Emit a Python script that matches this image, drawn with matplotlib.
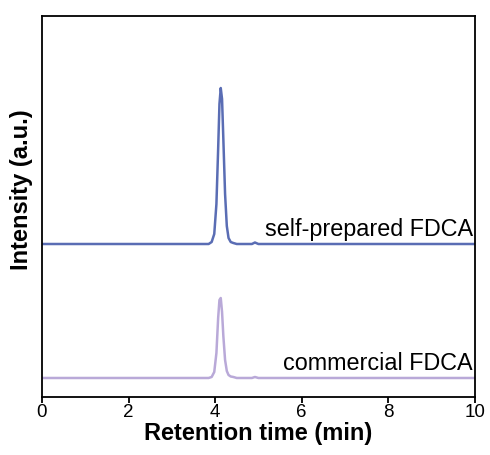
import numpy as np
import matplotlib.pyplot as plt

plt.rcParams['font.family'] = ['Liberation Sans', 'DejaVu Sans']

# retention times (min) and detector signal
t = [0.0, 3.85, 3.92, 3.98, 4.03, 4.07, 4.10, 4.13, 4.16, 4.19, 4.23,
     4.27, 4.31, 4.36, 4.42, 4.5, 4.85, 4.92, 5.0, 10.0]
self_prepared = [0, 0, 2, 10, 40, 95, 140, 156, 145, 105, 50,
                 18, 6, 2, 1, 0, 0, 1.5, 0, 0]
commercial = [0, 0, 1, 6, 25, 60, 78, 80, 66, 42, 18,
              7, 3, 1.5, 1, 0, 0, 1, 0, 0]

offset_self = 153
offset_comm = 19

fig = plt.figure(figsize=(4.9, 4.55), dpi=100)
ax = fig.add_axes([0.0857, 0.1275, 0.8833, 0.8373])

ax.plot(t, np.array(self_prepared) + offset_self, color='#5a6db4', linewidth=1.8)
ax.plot(t, np.array(commercial) + offset_comm, color='#b9a9d8', linewidth=1.8)

ax.text(9.96, offset_self + 14, 'self-prepared FDCA', ha='right', va='center', fontsize=16.8)
ax.text(9.96, offset_comm + 14, 'commercial FDCA', ha='right', va='center', fontsize=16.8)

ax.set_xlim(0, 10)
ax.set_ylim(0, 381)
ax.set_xticks([0, 2, 4, 6, 8, 10])
ax.set_yticks([])
ax.tick_params(axis='x', direction='out', length=4, width=1.3, labelsize=13.5, pad=1)
for s in ax.spines.values():
    s.set_linewidth(1.3)

ax.set_xlabel('Retention time (min)', fontsize=17, fontweight='bold', labelpad=1)
ax.set_ylabel('Intensity (a.u.)', fontsize=17, fontweight='bold')
ax.yaxis.set_label_coords(-0.021, 0.545)

fig.savefig('out.png', dpi=100)
